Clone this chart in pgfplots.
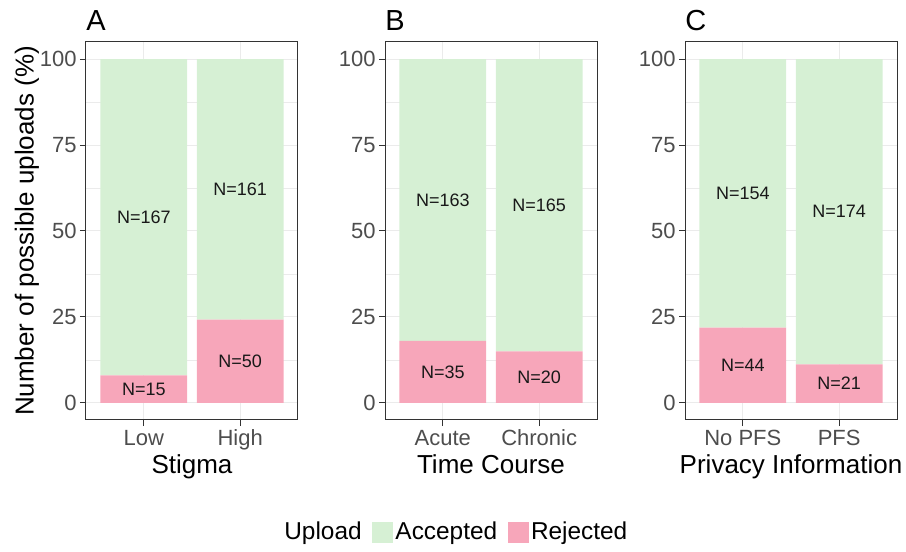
\documentclass[border=0pt]{standalone}
\usepackage{fontspec}
\setmainfont{Liberation Sans}
\usepackage{pgfplots}
\pgfplotsset{compat=1.18}

\definecolor{accgreen}{RGB}{214,240,212}
\definecolor{rejpink}{RGB}{247,166,186}
\definecolor{gridgray}{RGB}{235,235,235}
\definecolor{framegray}{RGB}{51,51,51}
\definecolor{ticklab}{RGB}{77,77,77}

\pgfplotsset{
  panelbox/.style={
    scale only axis, width=106pt, height=189pt, anchor=south west,
    xmin=0.4, xmax=2.6, ymin=-5, ymax=105,
  },
  panel/.style={
    panelbox,
    ybar stacked, bar width=0.9,
    xtick={1,2}, ytick={0,25,50,75,100},
    minor ytick={12.5,37.5,62.5,87.5},
    tick pos=left, tick align=outside,
    major tick length=3pt, minor tick length=0pt,
    tick style={framegray, line width=0.5pt},
    axis line style={framegray, line width=0.5pt},
    grid=both,
    major grid style={gridgray, line width=0.5pt},
    minor grid style={gridgray, line width=0.3pt},
    /pgf/number format/assume math mode=true,
    ticklabel style={font=\fontsize{11}{13}\selectfont, text=ticklab},
    yticklabel style={anchor=east, inner sep=0pt, xshift=-1.5pt},
    xticklabel style={anchor=base, inner sep=0pt, yshift=-9.5pt},
    label style={font=\fontsize{13}{15}\selectfont},
    xlabel style={at={(axis description cs:0.5,-0.1413)}, anchor=base, inner sep=0pt},
    ylabel style={at={(axis description cs:-0.2476,0.5)}, anchor=base, inner sep=0pt},
    title style={at={(axis description cs:0,1.0317)}, anchor=base west, inner sep=0pt,
      yshift=-6pt, font=\fontsize{14.5}{17}\selectfont},
  },
  labels/.style={panelbox, hide axis},
  barlabels/.style={forget plot, draw=none, mark=none, nodes near coords,
    point meta=explicit symbolic,
    nodes near coords align=center,
    nodes near coords style={anchor=center, inner sep=0pt,
      font=\fontsize{9}{11}\selectfont, text=black!90}},
}

\begin{document}
\begin{tikzpicture}
\path[use as bounding box] (0,0) rectangle (453pt,276pt);

% A: Stigma
\begin{axis}[panel, at={(43pt,66pt)}, title={A},
  xticklabels={Low,High}, xlabel={Stigma},
  ylabel={Number of possible uploads (\%)}]
\addplot[fill=rejpink, draw=none] coordinates {(1,8.0) (2,24.2)};
\addplot[fill=accgreen, draw=none] coordinates {(1,92.0) (2,75.8)};
\end{axis}
\begin{axis}[labels, at={(43pt,66pt)}]
\addplot[barlabels] coordinates {(1,4.0)[N=15] (1,54.0)[N=167] (2,12.1)[N=50] (2,62.1)[N=161]};
\end{axis}

% B: Time Course
\begin{axis}[panel, at={(192.5pt,66pt)}, title={B},
  xticklabels={Acute,Chronic}, xlabel={Time Course}]
\addplot[fill=rejpink, draw=none] coordinates {(1,18.0) (2,15.0)};
\addplot[fill=accgreen, draw=none] coordinates {(1,82.0) (2,85.0)};
\end{axis}
\begin{axis}[labels, at={(192.5pt,66pt)},
  legend columns=-1,
  legend style={at={(axis description cs:0.328,-0.298)}, anchor=center,
    draw=none, fill=none, inner sep=0pt,
    font=\fontsize{12.2}{14}\selectfont,
    nodes={inner sep=0pt},
    /tikz/every odd column/.style={column sep=1.3pt},
    /tikz/every even column/.style={column sep=5.2pt}}]
\addplot[barlabels] coordinates {(1,9.0)[N=35] (1,59.0)[N=163] (2,7.5)[N=20] (2,57.5)[N=165]};
\addlegendimage{empty legend}
\addlegendentry{Upload}
\addlegendimage{legend image code/.code={\fill[accgreen] (0pt,-5pt) rectangle (10pt,5pt);}}
\addlegendentry{Accepted}
\addlegendimage{legend image code/.code={\fill[rejpink] (0pt,-5pt) rectangle (10pt,5pt);}}
\addlegendentry{Rejected}
\end{axis}

% C: Privacy Information
\begin{axis}[panel, at={(342.5pt,66pt)}, title={C},
  xticklabels={No PFS,PFS}, xlabel={Privacy Information}]
\addplot[fill=rejpink, draw=none] coordinates {(1,21.9) (2,11.2)};
\addplot[fill=accgreen, draw=none] coordinates {(1,78.1) (2,88.8)};
\end{axis}
\begin{axis}[labels, at={(342.5pt,66pt)}]
\addplot[barlabels] coordinates {(1,10.95)[N=44] (1,60.95)[N=154] (2,5.6)[N=21] (2,55.6)[N=174]};
\end{axis}
\end{tikzpicture}
\end{document}
